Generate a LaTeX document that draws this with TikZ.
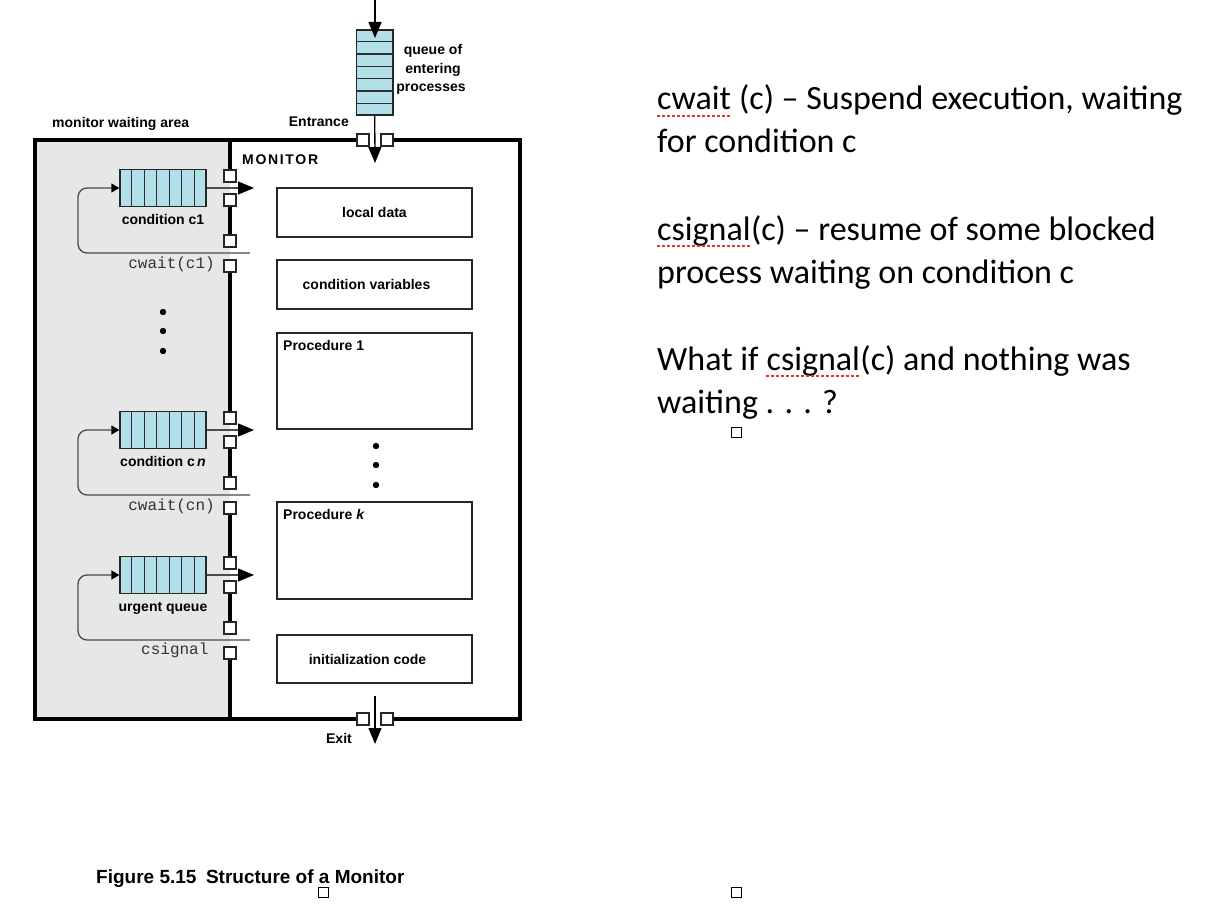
\documentclass[tikz,border=0pt]{standalone}
\usepackage{fontspec}
\usetikzlibrary{arrows.meta,calc}
\newfontfamily\labfont{Liberation Sans}
\newfontfamily\notefont{Carlito}
\newfontfamily\codefont{Liberation Mono}
\definecolor{qblue}{RGB}{178,223,232}
\definecolor{waitgray}{RGB}{230,231,231}
\definecolor{linkgray}{RGB}{75,75,75}
\definecolor{spellred}{RGB}{226,52,52}

\begin{document}
\begin{tikzpicture}[x=1pt,y=-1pt,
  lbl/.style={font=\labfont\bfseries\fontsize{14}{16}\selectfont, inner sep=0},
  code/.style={font=\codefont\fontsize{16}{18}\selectfont, text=black!80, inner sep=0},
  note/.style={font=\notefont\fontsize{34}{41}\selectfont, inner sep=0, anchor=base west},
  wall/.style={line width=3.6pt, line join=miter},
  gate/.style={draw=black!85, fill=white, line width=1.1pt, minimum size=12pt, inner sep=0},
  hq/.style={draw=black!85, fill=qblue, line width=1.3pt, minimum width=86pt, minimum height=37pt, inner sep=0},
  vq/.style={draw=black!85, fill=qblue, line width=1.3pt, minimum width=36.5pt, minimum height=85pt, inner sep=0},
  cell/.style={draw=black!82, line width=1.3pt},
  part/.style={draw=black!85, fill=white, line width=2pt, minimum width=195pt, inner sep=0,
    font=\labfont\bfseries\fontsize{14}{16}\selectfont},
  link/.style={draw=linkgray, line width=1.3pt},
  flow/.style={draw=black, line width=1.3pt},
  bighead/.style={-{Triangle[length=16pt,width=13pt,color=black]}},
  smallhead/.style={-{Triangle[length=8pt,width=9pt,color=black]}},
  spell/.style={draw=spellred, line width=2pt, dash pattern=on 3pt off 2pt},
  anchorbox/.style={draw=black, line width=0.9pt, minimum size=10pt, inner sep=0}
]
\useasboundingbox (0,0) rectangle (1220,904);
\fill[white] (0,0) rectangle (1220,904);

% waiting area and monitor walls
\fill[waitgray] (35,140) rectangle (230,719);
\draw[wall] (363,140) -- (35,140) -- (35,719) -- (363,719);
\draw[wall] (387,140) -- (520,140) -- (520,719) -- (387,719);
\draw[wall] (230,140) -- (230,182)
            (230,194) -- (230,247) (230,260) -- (230,424)
            (230,436) -- (230,489) (230,502) -- (230,569)
            (230,581) -- (230,634) (230,647) -- (230,719);

% entrance queue
\node[vq] (eq) at (374.75,72.5) {};
\foreach \i in {1,...,6}
  \draw[cell] ($(eq.north west)!\i/7!(eq.south west)$) -- ($(eq.north east)!\i/7!(eq.south east)$);
\coordinate (src) at (375,0);
\coordinate (eqtop) at (375,38);
\coordinate (mtip) at (375,163);
\draw[flow,bighead] (src) -- (eqtop);
\draw[flow,bighead] (eq.south) -- (mtip);
\node[gate] (ena) at (363,140) {};
\node[gate] (enb) at (387,140) {};

% condition queues and urgent queue
\foreach \n/\q in {c1/188, cn/430, ur/575} {
  \node[hq] (q\n) at (163,\q) {};
  \foreach \i in {1,...,6}
    \draw[cell] ($(q\n.north west)!\i/7!(q\n.north east)$) -- ($(q\n.south west)!\i/7!(q\n.south east)$);
  \coordinate (o\n) at (254,\q);
  \coordinate (f\n) at (250,\q+65);
  \draw[link,bighead] (q\n.east) -- (o\n);
  \draw[link,smallhead,rounded corners=9pt] (f\n) -- (78,\q+65) -- (78,\q) -- (q\n.west);
  \node[gate] (g\n a) at (230,\q-12) {};
  \node[gate] (g\n b) at (230,\q+12) {};
  \node[gate] (g\n c) at (230,\q+53) {};
  \node[gate] (g\n d) at (230,\q+78) {};
}

% labels of the waiting area
\node[lbl,anchor=base west] (wlab) at (52,128) {monitor waiting area};
\node[lbl,anchor=base east] (entlab) at (349,127) {Entrance};
\node[lbl,anchor=base] (qe1) at (433,55) {queue of};
\node[lbl,anchor=base] (qe2) at (433,73.5) {entering};
\node[lbl,anchor=base] (qe3) at (431,92) {processes};
\node[lbl,anchor=base] (lc1) at (163,224) {condition c1};
\node[lbl,anchor=base] (lcn) at (163,466) {condition c\,\textit{n}};
\node[lbl,anchor=base] (lur) at (163,611) {urgent queue};
\node[code,anchor=base east] (wc1) at (215,268) {cwait(c1)};
\node[code,anchor=base east] (wcn) at (215,510) {cwait(cn)};
\node[code,anchor=base west] (sig) at (141,654) {csignal};
\foreach \y in {312,331,351} \fill (163,\y) circle (3.2pt);

% monitor contents
\node[lbl,anchor=base west] (mon) at (242,165) {\addfontfeature{LetterSpace=12}MONITOR};
\node[part,minimum height=49pt] (ld) at (374.5,212.5) {local data};
\node[part,minimum height=49pt] (cv) at (374.5,284.5) {\hspace*{-16pt}condition variables};
\node[part,minimum height=96pt] (p1) at (374.5,381) {};
\node[part,minimum height=97pt] (pk) at (374.5,550.5) {};
\node[part,minimum height=48pt] (ic) at (374.5,659) {\hspace*{-14pt}initialization code};
\node[lbl,anchor=base west] at ([xshift=7pt,yshift=-18pt]p1.north west) {Procedure 1};
\node[lbl,anchor=base west] at ([xshift=7pt,yshift=-18pt]pk.north west) {Procedure \textit{k}};
\foreach \y in {446,465,485} \fill (376,\y) circle (3.2pt);

% exit
\coordinate (xs) at (375,696);
\coordinate (xt) at (375,744);
\draw[flow,bighead] (xs) -- (xt);
\node[gate] (exa) at (363,719) {};
\node[gate] (exb) at (387,719) {};
\node[lbl,anchor=base east] (exlab) at (352,743) {Exit};

% caption
\node[anchor=base west,inner sep=0,font=\labfont\bfseries\fontsize{19}{22}\selectfont] (cap) at (96,883)
  {Figure 5.15\hspace{0.5em}Structure of a Monitor};

% notes
\node[note] (n1a) at (657,110) {cwait};
\node[note] (n1b) at (n1a.base east) {\ (c) – Suspend execution, waiting};
\node[note] (n2) at (657,153) {for condition c};
\node[note] (n3a) at (657,240) {csignal};
\node[note] (n3b) at (n3a.base east) {(c) – resume of some blocked};
\node[note] (n4) at (657,283) {process waiting on condition c};
\node[note] (n5a) at (657,370) {What if\ \kern0pt};
\node[note] (n5b) at (n5a.base east) {csignal};
\node[note] (n5c) at (n5b.base east) {(c) and nothing was};
\node[note] (n6) at (657,413) {waiting . . . ?};
\draw[spell] ([yshift=-6pt]n1a.base west) -- ([yshift=-6pt]n1a.base east);
\draw[spell] ([yshift=-6pt]n3a.base west) -- ([yshift=-6pt]n3a.base east);
\draw[spell] ([yshift=-6pt]n5b.base west) -- ([yshift=-6pt]n5b.base east);

% small anchor marks
\node[anchorbox] (m1) at (736,432) {};
\node[anchorbox] (m2) at (323,892) {};
\node[anchorbox] (m3) at (736,892) {};
\end{tikzpicture}
\end{document}
